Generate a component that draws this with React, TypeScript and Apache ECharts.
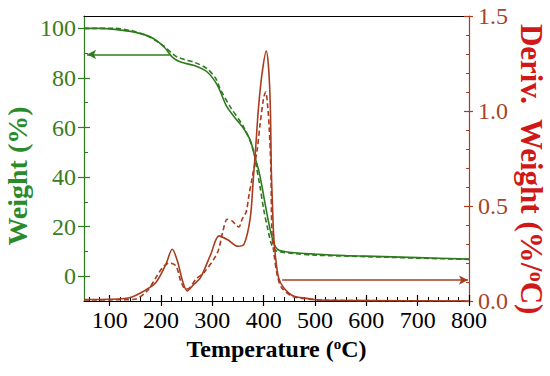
import React, { useEffect, useRef } from "react";
import * as echarts from "echarts";

// ---- data ----
const tgaSolidT = [50, 80, 110, 148, 180, 206, 222, 238, 265, 290, 310, 328, 348, 361, 374, 383, 390, 396, 403, 408, 413, 418, 423, 430, 440, 460, 500, 560, 600, 700, 800];
const tgaSolidW = [100, 100, 99.6, 98.5, 96.5, 92.5, 88.4, 86.4, 85, 82.4, 77, 68.5, 62.9, 59.6, 54.8, 48, 43, 37, 29, 23.5, 18.5, 14.5, 11.8, 10.5, 10, 9.5, 8.9, 8.3, 8.1, 7.5, 6.9];

const tgaDashT = [50, 110, 167, 206, 222, 232, 248, 264, 290, 307, 315, 335, 361, 380, 386, 393, 400, 408, 415, 422, 432, 460, 500, 600, 700, 800];
const tgaDashW = [100, 100, 97.5, 92.8, 89.8, 88.4, 87.3, 86.4, 83.7, 79.7, 75.7, 68.3, 60.2, 50.8, 44, 36, 27, 19, 13, 10.5, 9.8, 9.1, 8.5, 7.9, 7.3, 6.8];

const dtgSolidT = [50, 100, 138, 167, 190, 209, 222, 232, 242, 251, 264, 277, 297, 313, 330, 350, 362, 374, 380, 384, 390, 397, 405, 409.5, 413, 415, 417, 419, 422.5, 429, 439, 458, 484, 510, 600, 800];
const dtgSolidD = [0.008, 0.009, 0.017, 0.053, 0.097, 0.19, 0.272, 0.21, 0.105, 0.053, 0.088, 0.123, 0.246, 0.343, 0.322, 0.288, 0.3, 0.44, 0.65, 0.79, 1.02, 1.2, 1.315, 1.23, 1.02, 0.68, 0.52, 0.37, 0.246, 0.123, 0.07, 0.026, 0.014, 0.005, 0.002, 0];

const dtgDashT = [50, 100, 148, 173, 190, 203, 216, 229, 238.5, 248, 256, 268, 284, 310, 320, 329, 339, 346, 352, 358, 366, 371, 377, 387, 393, 400, 404, 408, 411, 414, 416, 420, 427, 435, 455, 480, 520, 800];
const dtgDashD = [0.005, 0.006, 0.009, 0.053, 0.123, 0.176, 0.2, 0.185, 0.105, 0.062, 0.07, 0.115, 0.15, 0.255, 0.36, 0.43, 0.42, 0.4, 0.39, 0.43, 0.47, 0.55, 0.64, 0.79, 0.93, 1.07, 1.1, 1.02, 0.9, 0.7, 0.37, 0.25, 0.13, 0.07, 0.026, 0.012, 0.004, 0];

const xTicks = [100, 200, 300, 400, 500, 600, 700, 800];
const weightTicks = [0, 20, 40, 60, 80, 100];
const derivTicks = [0, 0.5, 1.0, 1.5];

// arrows: [startX, endX, y]
const weightArrow = [217, 56, 89.5];
const derivArrow = [436, 798, 0.11];

const xTitle = "Temperature ({s|o}C)";
const leftTitle = "Weight (%)";
const rightTitle = "Deriv.  Weight (%/{s|o}C)";

const FONT = "'Liberation Serif', 'Times New Roman', serif";
const GREEN = "#2f7a1f";
const GREEN_LABEL = "#3a7d22";
const GREEN_TITLE = "#2b8a2b";
const RED = "#a83c1e";
const RED_LABEL = "#a5452a";
const RED_TITLE = "#d01818";

const zip = (a: number[], b: number[]) => a.map((v, i) => [v, b[i]]);

export default function App() {
  const ref = useRef<HTMLDivElement>(null);
  useEffect(() => {
    if (!ref.current) return;
    const chart = echarts.init(ref.current, undefined, { renderer: "svg" });
    const sup = { fontSize: 15, fontWeight: "bold", fontFamily: FONT, verticalAlign: "top", padding: [0, 0, 10, 0] };
    const xCommon = { type: "value", min: 50, max: 800, splitNumber: 8, minInterval: 100, maxInterval: 100, splitLine: { show: false } };
    const yLCommon = { type: "value", min: -10, max: 105, splitNumber: 5, minInterval: 20, maxInterval: 20, splitLine: { show: false } };
    const yRCommon = { type: "value", min: 0, max: 1.5, interval: 0.5, splitLine: { show: false } };
    chart.setOption({
      animation: false,
      backgroundColor: "#ffffff",
      grid: { left: 84, right: 81, top: 16, bottom: 75, containLabel: false, outerBoundsMode: "none" },
      graphic: [
        {
          type: "text",
          x: 17,
          y: 176,
          rotation: Math.PI / 2,
          silent: true,
          style: { text: leftTitle, fontSize: 28, fontWeight: "bold", fontFamily: FONT, fill: GREEN_TITLE, align: "center", verticalAlign: "middle" },
        },
        {
          type: "text",
          x: 531,
          y: 169,
          rotation: -Math.PI / 2,
          silent: true,
          style: {
            text: rightTitle,
            fontSize: 31,
            fontWeight: "bold",
            fontFamily: FONT,
            fill: RED_TITLE,
            align: "center",
            verticalAlign: "middle",
            rich: { s: { fontSize: 20, fontWeight: "bold", fontFamily: FONT, fill: RED_TITLE, verticalAlign: "top", padding: [0, 0, 12, 0] } },
          },
        },
      ],
      xAxis: [
        {
          ...xCommon,
          position: "bottom",
          name: xTitle,
          nameLocation: "middle",
          nameGap: 35,
          nameTextStyle: { fontSize: 24, fontWeight: "bold", fontFamily: FONT, color: "#000", rich: { s: sup } },
          axisLine: { show: true, onZero: false, lineStyle: { color: "#000", width: 1.2 } },
          axisTick: { show: true, inside: true, length: 6, customValues: xTicks, lineStyle: { color: "#000", width: 1.2 } },
          minorTick: { show: true, splitNumber: 5, length: 4, lineStyle: { color: "#000", width: 1 } },
          axisLabel: { customValues: xTicks, margin: 7, fontSize: 24, fontFamily: FONT, color: "#000" },
        },
        {
          ...xCommon,
          position: "bottom",
          axisLine: { show: false, onZero: false },
          axisTick: { show: true, inside: false, length: 5, customValues: xTicks, lineStyle: { color: "#000", width: 1.2 } },
          axisLabel: { show: false },
        },
        {
          ...xCommon,
          position: "top",
          axisLine: { show: true, onZero: false, lineStyle: { color: "#000", width: 1.2 } },
          axisTick: { show: false },
          axisLabel: { show: false },
        },
      ],
      yAxis: [
        {
          ...yLCommon,
          position: "left",
          axisLine: { show: true, onZero: false, lineStyle: { color: GREEN, width: 1.2 } },
          axisTick: { show: true, inside: true, length: 6, customValues: weightTicks, lineStyle: { color: GREEN, width: 1.2 } },
          minorTick: { show: true, splitNumber: 2, length: 4, lineStyle: { color: GREEN, width: 1 } },
          axisLabel: { customValues: weightTicks, margin: 8, fontSize: 24, fontFamily: FONT, color: GREEN_LABEL },
        },
        {
          ...yRCommon,
          position: "right",
          axisLine: { show: true, onZero: false, lineStyle: { color: RED, width: 1.2 } },
          axisTick: { show: true, inside: true, length: 5, customValues: derivTicks, lineStyle: { color: RED, width: 1.2 } },
          minorTick: { show: true, splitNumber: 5, length: 3, lineStyle: { color: RED, width: 1 } },
          axisLabel: { customValues: derivTicks, margin: 9, fontSize: 24, fontFamily: FONT, color: RED_LABEL, formatter: (v: number) => v.toFixed(1) },
        },
        {
          ...yLCommon,
          position: "left",
          axisLine: { show: false, onZero: false },
          axisTick: { show: true, inside: false, length: 6, customValues: weightTicks, lineStyle: { color: GREEN, width: 1.2 } },
          axisLabel: { show: false },
        },
        {
          ...yRCommon,
          position: "right",
          axisLine: { show: false, onZero: false },
          axisTick: { show: true, inside: false, length: 4, customValues: derivTicks, lineStyle: { color: RED, width: 1.2 } },
          axisLabel: { show: false },
        },
      ],
      series: [
        {
          type: "line",
          xAxisIndex: 0,
          yAxisIndex: 0,
          data: zip(tgaDashT, tgaDashW),
          smooth: 0.3,
          showSymbol: false,
          lineStyle: { color: GREEN, width: 1.6, type: [5, 3] },
        },
        {
          type: "line",
          xAxisIndex: 0,
          yAxisIndex: 0,
          data: zip(tgaSolidT, tgaSolidW),
          smooth: 0.3,
          showSymbol: false,
          lineStyle: { color: GREEN, width: 1.6 },
          markLine: {
            silent: true,
            symbol: ["none", "arrow"],
            symbolSize: [7, 9],
            label: { show: false },
            lineStyle: { color: GREEN, width: 1.5, type: "solid" },
            data: [[{ coord: [weightArrow[0], weightArrow[2]] }, { coord: [weightArrow[1], weightArrow[2]] }]],
          },
        },
        {
          type: "line",
          xAxisIndex: 0,
          yAxisIndex: 1,
          data: zip(dtgDashT, dtgDashD),
          smooth: 0.3,
          showSymbol: false,
          lineStyle: { color: RED, width: 1.6, type: [5, 3] },
        },
        {
          type: "line",
          xAxisIndex: 0,
          yAxisIndex: 1,
          data: zip(dtgSolidT, dtgSolidD),
          smooth: 0.3,
          showSymbol: false,
          lineStyle: { color: RED, width: 1.6 },
          markLine: {
            silent: true,
            symbol: ["none", "arrow"],
            symbolSize: [7, 9],
            label: { show: false },
            lineStyle: { color: RED, width: 1.5, type: "solid" },
            data: [[{ coord: [derivArrow[0], derivArrow[2]] }, { coord: [derivArrow[1], derivArrow[2]] }]],
          },
        },
      ],
    });
    return () => chart.dispose();
  }, []);
  return <div ref={ref} style={{ position: "fixed", left: 0, top: 0, width: 550, height: 376, background: "#fff" }} />;
}
